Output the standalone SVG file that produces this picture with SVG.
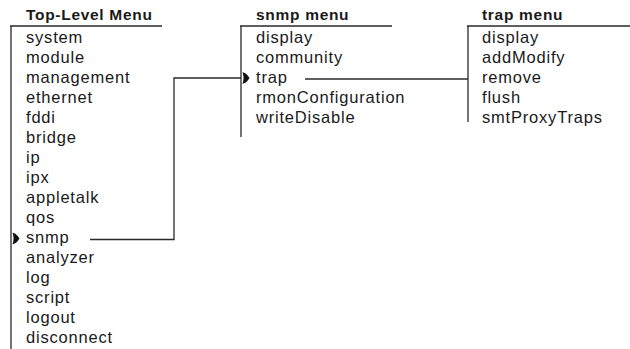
<svg xmlns="http://www.w3.org/2000/svg" width="630" height="349" viewBox="0 0 630 349">
  <style>
    .hdr { font-family: "Liberation Sans", Arial, sans-serif; font-weight: bold; font-size: 15.5px; letter-spacing: 0.7px; fill: #1a1a1a; }
    .item { font-family: "Liberation Sans", Arial, sans-serif; font-size: 16.5px; letter-spacing: 0.8px; fill: #1a1a1a; }
    .rule { stroke: #2a2a2a; stroke-width: 1.3; fill: none; }
    .link { stroke: #2a2a2a; stroke-width: 1.3; fill: none; }
    .ptr { fill: #111; }
  </style>
  <defs>
    <!-- selection pointer, centred on its vertical middle -->
    <path id="pointer" d="M0,-5.8 C3,-5.6 5.8,-2.2 7,0 C5.8,2.2 3,5.6 0,5.8 C1.4,2 1.4,-2 0,-5.8 Z"/>
  </defs>

  <g id="top-level-menu">
    <text class="hdr" x="26" y="20">Top-Level Menu</text>
    <path class="rule" d="M10,26 H162 M11,26 V349"/>
    <text class="item" x="26" y="42.5">system</text>
    <text class="item" x="26" y="62.5">module</text>
    <text class="item" x="26" y="82.5">management</text>
    <text class="item" x="26" y="102.5">ethernet</text>
    <text class="item" x="26" y="122.5">fddi</text>
    <text class="item" x="26" y="142.5">bridge</text>
    <text class="item" x="26" y="162.5">ip</text>
    <text class="item" x="26" y="182.5">ipx</text>
    <text class="item" x="26" y="202.5">appletalk</text>
    <text class="item" x="26" y="222.5">qos</text>
    <text class="item" x="26" y="242.5">snmp</text>
    <text class="item" x="26" y="262.5">analyzer</text>
    <text class="item" x="26" y="282.5">log</text>
    <text class="item" x="26" y="302.5">script</text>
    <text class="item" x="26" y="322.5">logout</text>
    <text class="item" x="26" y="342.5">disconnect</text>
    <use href="#pointer" class="ptr" x="12.5" y="238.5"/>
  </g>

  <g id="snmp-menu">
    <text class="hdr" x="256" y="20">snmp menu</text>
    <path class="rule" d="M240,26 H392 M241,26 V137"/>
    <text class="item" x="256" y="42.5">display</text>
    <text class="item" x="256" y="62.5">community</text>
    <text class="item" x="256" y="82.5">trap</text>
    <text class="item" x="256" y="102.5">rmonConfiguration</text>
    <text class="item" x="256" y="122.5">writeDisable</text>
    <use href="#pointer" class="ptr" x="242.5" y="78"/>
  </g>

  <g id="trap-menu">
    <text class="hdr" x="482" y="20">trap menu</text>
    <path class="rule" d="M467,26 H630 M468,26 V122"/>
    <text class="item" x="482" y="42.5">display</text>
    <text class="item" x="482" y="62.5">addModify</text>
    <text class="item" x="482" y="82.5">remove</text>
    <text class="item" x="482" y="102.5">flush</text>
    <text class="item" x="482" y="122.5">smtProxyTraps</text>
  </g>

  <g id="connectors">
    <!-- snmp -> snmp menu -->
    <path class="link" d="M90,239.5 H174 V78 H241"/>
    <!-- trap -> trap menu -->
    <path class="link" d="M305,79 H468"/>
  </g>
</svg>
